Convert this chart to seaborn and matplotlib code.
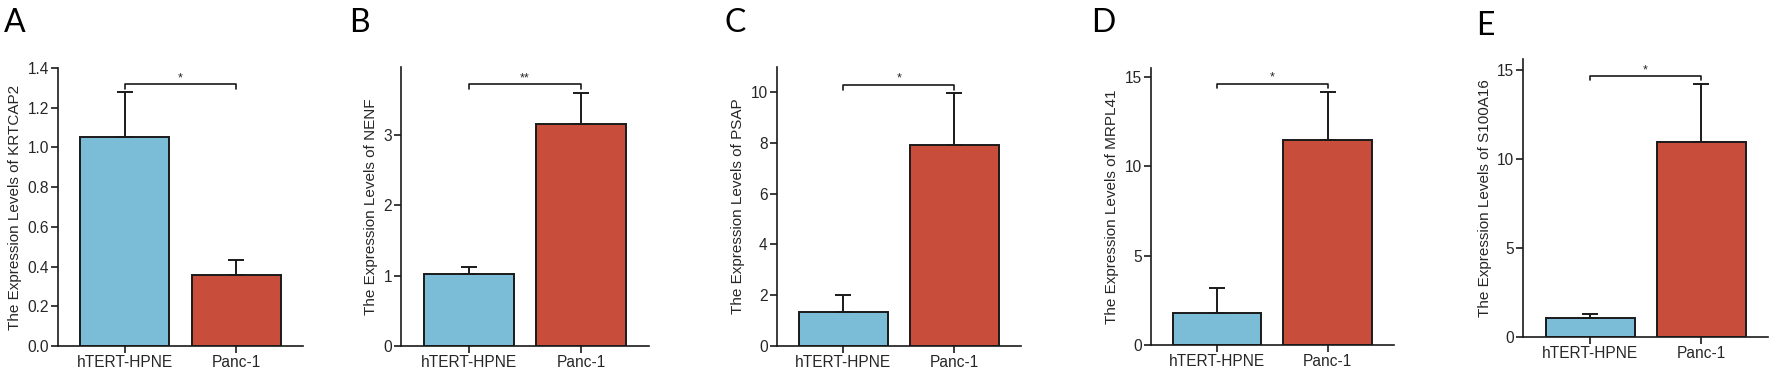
import numpy as np
import pandas as pd
import seaborn as sns
import matplotlib.pyplot as plt
from matplotlib.ticker import FormatStrFormatter

# dati
groups = ["hTERT-HPNE", "Panc-1"]
genes = ["KRTCAP2", "NENF", "PSAP", "MRPL41", "S100A16"]
letters = ["A", "B", "C", "D", "E"]

means = {
    "KRTCAP2": [1.05, 0.36],
    "NENF": [1.02, 3.15],
    "PSAP": [1.31, 7.93],
    "MRPL41": [1.81, 11.45],
    "S100A16": [1.05, 10.97],
}
sds = {
    "KRTCAP2": [0.23, 0.075],
    "NENF": [0.11, 0.45],
    "PSAP": [0.69, 2.04],
    "MRPL41": [1.37, 2.70],
    "S100A16": [0.26, 3.23],
}
stars = ["*", "**", "*", "*", "*"]
bracket_y = [1.318, 3.72, 10.29, 14.6, 14.62]
bracket_drop = [0.025, 0.06, 0.2, 0.25, 0.22]
ymax = [1.4, 3.97, 11.0, 15.5, 15.6]
yticks = [np.arange(0, 1.41, 0.2), [0, 1, 2, 3], [0, 2, 4, 6, 8, 10], [0, 5, 10, 15], [0, 5, 10, 15]]

colors = ["#7bbcd6", "#c94d3b"]

sns.set_style("ticks")
plt.rcParams["font.family"] = ["Liberation Sans", "DejaVu Sans"]

W, H = 1772, 373
fig = plt.figure(figsize=(W / 100, H / 100), dpi=100)

# posizioni dei pannelli in pixel: sinistra, destra, alto, basso
boxes = [
    (58, 303, 68, 346),
    (401, 649, 66.7, 346),
    (776.7, 1021, 66.7, 345.7),
    (1150.7, 1394, 67.7, 345),
    (1523.3, 1768, 59, 337),
]
letter_pos = [(4, 8), (349, 8), (724, 8), (1091, 8), (1476, 11)]

for i, gene in enumerate(genes):
    l, r, t, b = boxes[i]
    ax = fig.add_axes([l / W, 1 - b / H, (r - l) / W, (b - t) / H])
    df = pd.DataFrame({"group": groups, "value": means[gene]})
    sns.barplot(data=df, x="group", y="value", hue="group", palette=colors,
                saturation=1, errorbar=None, width=0.8, edgecolor="#1a1a1a",
                linewidth=1.4, legend=False, ax=ax)
    ax.errorbar([0, 1], means[gene], yerr=[[0, 0], sds[gene]], fmt="none",
                ecolor="#1a1a1a", elinewidth=1.4, capsize=6, capthick=1.4, zorder=5)

    # parentesi di significatività
    y = bracket_y[i]
    d = bracket_drop[i]
    ax.plot([0, 0, 1, 1], [y - d, y, y, y - d], color="#1a1a1a", lw=1.2, clip_on=False)
    ax.text(0.5, y, stars[i], ha="center", va="bottom", fontsize=9)

    ax.set_xlim(-0.6, 1.6)
    ax.set_ylim(0, ymax[i])
    ax.set_yticks(yticks[i])
    if i == 0:
        ax.yaxis.set_major_formatter(FormatStrFormatter("%.1f"))
    ax.set_xlabel("")
    ax.set_ylabel(f"The Expression Levels of {gene}", fontsize=11, labelpad=4)
    ax.tick_params(axis="both", labelsize=11.2, length=5, width=1.2, color="#1a1a1a", pad=1.5)
    sns.despine(ax=ax)
    for s in ["left", "bottom"]:
        ax.spines[s].set_linewidth(1.2)
        ax.spines[s].set_color("#1a1a1a")

    lx, ly = letter_pos[i]
    fig.text(lx / W, 1 - ly / H, letters[i], ha="left", va="top", fontsize=23,
             family=["Lato", "DejaVu Sans"], color="black")

fig.savefig("out.png", dpi=100)
